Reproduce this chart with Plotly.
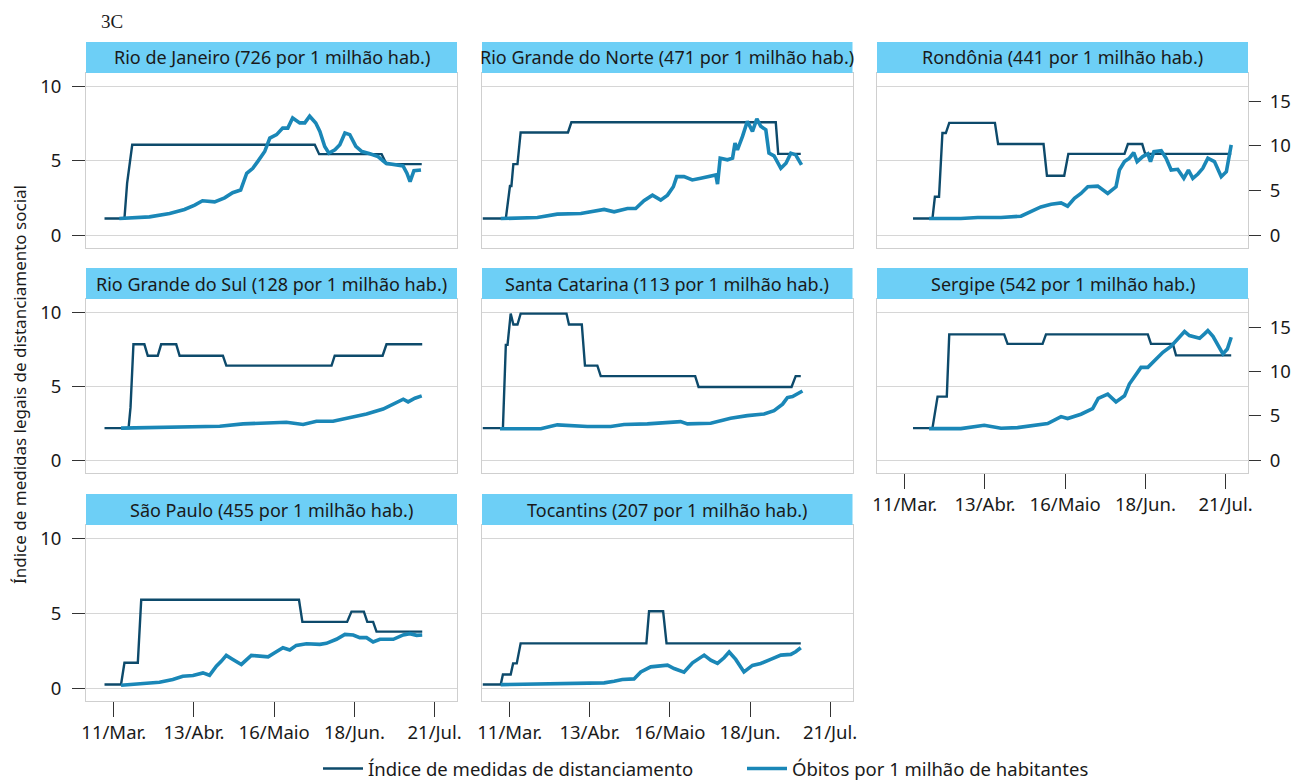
import pandas as pd
import plotly.graph_objects as go

BASE = pd.Timestamp("2020-03-11")

# ---------------- data (days relative to 11/Mar/2020) ----------------
titles = [
    "Rio de Janeiro (726 por 1 milhão hab.)",
    "Rio Grande do Norte (471 por 1 milhão hab.)",
    "Rondônia (441 por 1 milhão hab.)",
    "Rio Grande do Sul (128 por 1 milhão hab.)",
    "Santa Catarina (113 por 1 milhão hab.)",
    "Sergipe (542 por 1 milhão hab.)",
    "São Paulo (455 por 1 milhão hab.)",
    "Tocantins (207 por 1 milhão hab.)",
]

tick_dates = ["2020-03-11", "2020-04-13", "2020-05-16", "2020-06-18", "2020-07-21"]
tick_labels = ["11/Mar.", "13/Abr.", "16/Maio", "18/Jun.", "21/Jul."]
left_ticks = [0, 5, 10]
right_ticks = [0, 5, 10, 15]

# Índice de medidas de distanciamento (left axis)
rj_idx_days = [-3.8, 4.4, 5.5, 7.6, 82.7, 84.5, 110.2, 112.2, 126.7]
rj_idx_vals = [1.13, 1.13, 3.5, 6.08, 6.08, 5.45, 5.45, 4.78, 4.78]
rn_idx_days = [-11.1, -1.6, 0.1, 0.7, 1.5, 3.2, 4.5, 24.0, 25.4, 109.6, 110.6, 119.9]
rn_idx_vals = [1.13, 1.13, 3.31, 3.31, 4.78, 4.78, 6.91, 6.91, 7.59, 7.59, 5.47, 5.47]
ro_idx_days = [3.4, 11.4, 12.4, 14.1, 15.5, 16.9, 18.3, 37.1, 38.4, 57.1, 58.5, 65.6, 67.3,
               90.4, 91.8, 97.7, 98.9, 134.3]
ro_idx_vals = [1.13, 1.13, 2.59, 2.59, 6.87, 6.87, 7.55, 7.55, 6.13, 6.13, 4.0, 4.0, 5.47,
               5.47, 6.13, 6.13, 5.47, 5.47]
rs_idx_days = [-3.8, 6.1, 6.9, 8.1, 12.6, 14.0, 18.1, 19.5, 25.7, 27.1, 44.9, 46.3, 89.6,
               90.9, 110.6, 112.2, 126.9]
rs_idx_vals = [2.18, 2.18, 3.58, 7.84, 7.84, 7.07, 7.07, 7.84, 7.84, 7.07, 7.07, 6.4, 6.4,
               7.07, 7.07, 7.84, 7.84]
sc_idx_days = [-11.1, -2.8, -1.6, -0.9, 0.4, 1.5, 3.2, 4.5, 23.4, 24.4, 29.7, 31.0, 36.1,
               37.5, 76.4, 77.8, 116.1, 117.8, 119.9]
sc_idx_vals = [2.18, 2.18, 7.8, 7.8, 9.91, 9.18, 9.18, 9.91, 9.91, 9.18, 9.18, 6.4, 6.4,
               5.69, 5.69, 4.96, 4.96, 5.69, 5.69]
se_idx_days = [3.4, 11.4, 13.5, 17.3, 18.3, 40.9, 42.3, 56.7, 58.1, 100.0, 101.3, 110.3,
               111.6, 134.3]
se_idx_vals = [2.18, 2.18, 4.31, 4.31, 8.51, 8.51, 7.87, 7.87, 8.51, 8.51, 7.87, 7.87,
               7.09, 7.09]
sp_idx_days = [-3.8, 3.0, 4.4, 9.9, 11.3, 76.2, 77.6, 96.0, 97.8, 102.9, 104.3, 106.7,
               108.1, 126.9]
sp_idx_vals = [0.25, 0.25, 1.7, 1.7, 5.91, 5.91, 4.43, 4.43, 5.12, 5.12, 4.43, 4.43,
               3.78, 3.78]
to_idx_days = [-11.1, -3.7, -2.8, 0.4, 1.4, 2.9, 4.5, 56.3, 57.4, 63.2, 64.6, 119.9]
to_idx_vals = [0.25, 0.25, 0.92, 0.92, 1.66, 1.66, 3.0, 3.0, 5.14, 5.14, 3.0, 3.0]

# Óbitos por 1 milhão de habitantes (right axis)
rj_obt_days = [2.3, 14.7, 23.0, 29.1, 33.3, 36.5, 41.5, 45.6, 48.9, 52.2, 54.7, 57.2, 59.2,
               62.1, 64.2, 67.0, 69.5, 71.6, 73.6, 76.5, 78.6, 80.6, 83.1, 84.8, 86.8, 88.5,
               91.0, 93.0, 95.1, 97.1, 99.6, 102.1, 105.4, 108.7, 112.0, 115.7, 119.0,
               120.6, 121.9, 123.5, 125.2, 126.4]
rj_obt_vals = [1.88, 2.07, 2.45, 2.9, 3.38, 3.87, 3.75, 4.2, 4.77, 5.07, 6.95, 7.5, 8.25,
               9.38, 10.88, 11.27, 12.0, 12.0, 13.13, 12.58, 12.58, 13.33, 12.58, 11.63,
               9.95, 9.2, 9.57, 10.13, 11.45, 11.27, 9.95, 9.38, 9.12, 8.82, 8.07, 7.88,
               7.77, 6.95, 6.0, 7.23, 7.23, 7.32]
rn_obt_days = [-3.7, 11.4, 19.6, 29.3, 38.9, 43.0, 48.5, 51.9, 55.3, 58.8, 62.2, 65.0, 67.4,
               68.8, 71.8, 75.2, 78.7, 82.1, 84.9, 85.6, 86.7, 89.7, 91.8, 92.8, 93.8, 95.9,
               97.9, 100.0, 101.8, 103.4, 105.5, 106.8, 108.9, 111.7, 113.8, 115.8, 117.8,
               120.2]
rn_obt_vals = [1.88, 2.0, 2.37, 2.45, 2.9, 2.63, 3.0, 3.0, 3.87, 4.5, 3.94, 4.5, 5.44,
               6.57, 6.57, 6.2, 6.39, 6.57, 6.76, 5.74, 8.64, 8.45, 8.64, 10.33, 9.57,
               11.07, 12.76, 11.63, 13.03, 12.2, 11.82, 9.2, 8.9, 7.5, 8.07, 9.2, 9.0, 7.88]
ro_obt_days = [10.0, 23.1, 30.0, 39.6, 47.8, 51.9, 56.0, 60.2, 64.3, 67.0, 69.8, 72.5, 75.3,
               79.4, 83.5, 86.9, 88.3, 90.4, 92.4, 94.2, 95.6, 97.9, 100.0, 101.1, 102.5,
               105.5, 107.5, 109.6, 112.3, 114.8, 116.7, 118.5, 120.6, 122.6, 124.7, 127.4,
               130.2, 132.3, 134.3]
ro_obt_vals = [1.88, 1.88, 1.99, 1.99, 2.14, 2.62, 3.18, 3.49, 3.63, 3.26, 4.13, 4.69, 5.43,
               5.51, 4.69, 5.43, 7.31, 8.25, 8.63, 9.26, 8.25, 8.81, 9.11, 8.25, 9.37, 9.48,
               8.63, 7.31, 7.39, 6.38, 7.31, 6.38, 6.86, 7.5, 8.63, 8.25, 6.56, 7.12, 10.12]
rs_obt_days = [3.0, 18.8, 32.6, 43.6, 53.2, 62.8, 71.0, 77.9, 83.4, 90.2, 97.1, 104.0, 110.8,
               115.0, 119.1, 121.1, 123.9, 126.7]
rs_obt_vals = [3.63, 3.74, 3.81, 3.85, 4.11, 4.19, 4.3, 4.04, 4.41, 4.41, 4.85, 5.22, 5.78,
               6.33, 6.89, 6.59, 7.0, 7.26]
sc_obt_days = [-4.0, 12.8, 19.6, 32.0, 41.6, 47.1, 56.7, 66.3, 70.4, 73.2, 82.8, 91.0, 97.9,
               104.8, 108.9, 112.4, 114.4, 116.5, 118.5, 120.6]
sc_obt_vals = [3.56, 3.56, 4.0, 3.81, 3.81, 4.04, 4.11, 4.3, 4.37, 4.11, 4.19, 4.74, 5.04,
               5.22, 5.59, 6.33, 7.07, 7.19, 7.44, 7.81]
se_obt_days = [10.0, 23.1, 32.7, 39.6, 46.4, 53.3, 58.8, 64.3, 67.0, 72.5, 77.3, 79.6, 83.5,
               86.9, 90.4, 92.4, 95.2, 97.2, 100.0, 102.7, 106.2, 109.6, 113.0, 115.1, 117.1,
               121.3, 123.3, 124.7, 126.8, 128.8, 130.9, 132.7, 134.3]
se_obt_vals = [3.58, 3.58, 3.95, 3.62, 3.69, 3.99, 4.14, 4.93, 4.71, 5.2, 5.84, 6.97, 7.46,
               6.59, 7.27, 8.59, 9.72, 10.47, 10.47, 11.22, 12.17, 12.85, 13.86, 14.5, 14.05,
               13.75, 14.24, 14.61, 13.97, 12.92, 11.98, 12.54, 13.86]
sp_obt_days = [3.0, 12.0, 18.8, 24.3, 28.4, 32.6, 36.7, 39.4, 42.2, 44.3, 46.3, 49.0, 52.5,
               56.6, 63.5, 66.2, 69.6, 72.4, 75.1, 79.3, 84.8, 87.5, 91.6, 95.1, 98.5, 101.2,
               104.0, 106.7, 109.5, 115.0, 119.1, 121.8, 124.6, 126.9]
sp_obt_vals = [0.34, 0.48, 0.67, 0.97, 1.34, 1.42, 1.71, 1.45, 2.46, 3.02, 3.66, 3.21, 2.65,
               3.66, 3.5, 3.95, 4.51, 4.25, 4.77, 4.96, 4.89, 5.0, 5.45, 6.0, 5.93, 5.63,
               5.63, 5.15, 5.45, 5.45, 5.93, 6.08, 5.89, 5.93]
to_obt_days = [-3.7, 25.1, 38.9, 43.0, 46.4, 51.2, 54.0, 58.1, 61.5, 65.0, 67.7, 71.8, 75.3,
               80.1, 82.8, 85.6, 88.3, 90.4, 93.1, 96.5, 100.0, 103.4, 107.5, 111.7, 115.8,
               117.8, 119.9]
to_obt_vals = [0.41, 0.48, 0.6, 0.78, 0.97, 1.04, 1.82, 2.38, 2.46, 2.57, 2.2, 1.79, 2.83,
               3.69, 3.13, 2.76, 3.39, 4.03, 3.21, 1.82, 2.54, 2.76, 3.21, 3.69, 3.77, 4.06,
               4.51]

idx_series = [(rj_idx_days, rj_idx_vals), (rn_idx_days, rn_idx_vals), (ro_idx_days, ro_idx_vals),
              (rs_idx_days, rs_idx_vals), (sc_idx_days, sc_idx_vals), (se_idx_days, se_idx_vals),
              (sp_idx_days, sp_idx_vals), (to_idx_days, to_idx_vals)]
obt_series = [(rj_obt_days, rj_obt_vals), (rn_obt_days, rn_obt_vals), (ro_obt_days, ro_obt_vals),
              (rs_obt_days, rs_obt_vals), (sc_obt_days, sc_obt_vals), (se_obt_days, se_obt_vals),
              (sp_obt_days, sp_obt_vals), (to_obt_days, to_obt_vals)]

# ---------------- layout geometry ----------------
W, H = 1291, 780
col_px = [(86, 457), (482, 852.5), (877, 1248)]
row_px = [(73, 248), (299, 473), (525, 701)]  # plot area top, bottom
HEADER_H = 31
positions = [(0, 0), (0, 1), (0, 2), (1, 0), (1, 1), (1, 2), (2, 0), (2, 1)]
bottom_panels = {6, 7, 5}

IDX_COLOR = "#0d4a6b"
OBT_COLOR = "#1a87b7"
GRID = "#d6d6d6"
BORDER = "#cfcfcf"
FONT = "Noto Sans"
TXT = "#1a1a1a"

LEFT_RANGE = [-0.85, 10.9]
RIGHT_RANGE = [v * 5 / 3 for v in LEFT_RANGE]
X_RANGE = ["2020-02-28 14:00", "2020-07-30 05:00"]


def to_dates(days):
    return BASE + pd.to_timedelta(days, unit="D")


fig = go.Figure()
shapes = []
annotations = []

for i, (r, c) in enumerate(positions):
    xn = "" if i == 0 else str(i + 1)
    y1n = "" if i == 0 else str(2 * i + 1)
    y2n = str(2 * i + 2)
    xref, y1ref, y2ref = "x" + xn, "y" + y1n, "y" + y2n

    d_i, v_i = idx_series[i]
    d_o, v_o = obt_series[i]
    fig.add_trace(go.Scatter(
        x=to_dates(d_i), y=v_i, xaxis=xref, yaxis=y1ref, mode="lines",
        line=dict(color=IDX_COLOR, width=2.4),
        name="Índice de medidas de distanciamento", legendgroup="idx",
        showlegend=(i == 0), hoverinfo="skip"))
    fig.add_trace(go.Scatter(
        x=to_dates(d_o), y=v_o, xaxis=xref, yaxis=y2ref, mode="lines",
        line=dict(color=OBT_COLOR, width=3.6),
        name="Óbitos por 1 milhão de habitantes", legendgroup="obt",
        showlegend=(i == 0), hoverinfo="skip"))

    x0, x1 = col_px[c]
    top, bot = row_px[r]
    xdom = [x0 / W, x1 / W]
    ydom = [1 - bot / H, 1 - top / H]
    is_bottom = i in bottom_panels

    fig.layout["xaxis" + xn] = dict(
        domain=xdom, anchor=y1ref, range=X_RANGE, type="date",
        tickvals=tick_dates, ticktext=tick_labels,
        showticklabels=is_bottom, ticks="outside" if is_bottom else "",
        ticklen=15, tickwidth=1.2, tickcolor="#333333", ticklabelstandoff=0,
        showgrid=False, zeroline=False,
        showline=True, mirror=True, linecolor=BORDER, linewidth=1,
        tickfont=dict(family=FONT, size=18.5, color=TXT),
        fixedrange=True)
    fig.layout["yaxis" + y1n] = dict(
        domain=ydom, anchor=xref, range=LEFT_RANGE,
        tickvals=left_ticks, showticklabels=(c == 0),
        ticks="outside" if c == 0 else "", ticklen=13, tickwidth=1.2,
        tickcolor="#333333", ticklabelstandoff=7,
        showgrid=True, gridcolor=GRID, gridwidth=1, zeroline=False,
        showline=True, mirror=True, linecolor=BORDER, linewidth=1,
        tickfont=dict(family=FONT, size=18.5, color=TXT),
        fixedrange=True)
    fig.layout["yaxis" + y2n] = dict(
        overlaying=y1ref, anchor=xref, side="right", range=RIGHT_RANGE,
        tickvals=right_ticks, showticklabels=(c == 2),
        ticks="outside" if c == 2 else "", ticklen=12, tickwidth=1.2,
        tickcolor="#333333", ticklabelstandoff=5,
        showgrid=False, zeroline=False, showline=False,
        tickfont=dict(family=FONT, size=18.5, color=TXT),
        fixedrange=True)

    # header strip
    shapes.append(dict(type="rect", xref="paper", yref="paper",
                       x0=x0 / W, x1=x1 / W, y0=1 - top / H, y1=1 - (top - HEADER_H) / H,
                       fillcolor="#6dcff6", line=dict(width=0), layer="above"))
    annotations.append(dict(text=titles[i], xref="paper", yref="paper",
                            x=(x0 + x1) / 2 / W, y=1 - (top - HEADER_H / 2) / H,
                            xanchor="center", yanchor="middle", showarrow=False,
                            font=dict(family=FONT, size=18, color=TXT)))

annotations.append(dict(text="Índice de medidas legais de distanciamento social",
                        xref="paper", yref="paper", x=19 / W, y=1 - 385 / H,
                        textangle=-90, xanchor="center", yanchor="middle", showarrow=False,
                        font=dict(family=FONT, size=17, color=TXT)))
annotations.append(dict(text="3C", xref="paper", yref="paper", x=99 / W, y=1 - 21 / H,
                        xanchor="left", yanchor="middle", showarrow=False,
                        font=dict(family="Liberation Serif", size=19, color=TXT)))

fig.update_layout(
    width=W, height=H, margin=dict(l=0, r=0, t=0, b=0, autoexpand=False),
    paper_bgcolor="white", plot_bgcolor="white",
    shapes=shapes, annotations=annotations,
    showlegend=True,
    legend=dict(orientation="h", x=318 / W, xanchor="left", y=1 - 769 / H,
                yanchor="middle", font=dict(family=FONT, size=18.5, color=TXT),
                bgcolor="rgba(0,0,0,0)", itemwidth=40, tracegroupgap=0,
                entrywidth=369, entrywidthmode="pixels"),
    font=dict(family=FONT),
)

fig.write_html("out.html")
